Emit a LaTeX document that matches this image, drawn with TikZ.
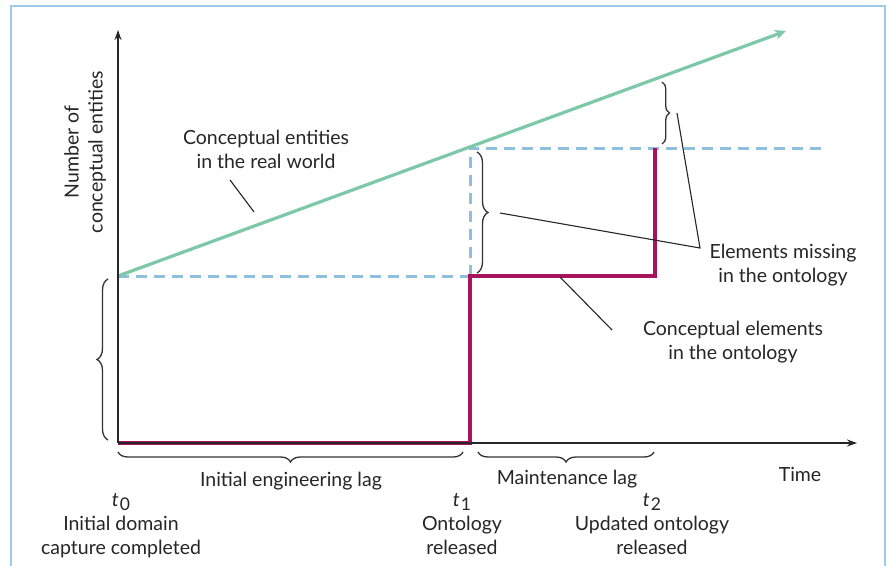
\documentclass[tikz,border=0pt]{standalone}
\usepackage{fontspec}
\setmainfont{Lato}
\usetikzlibrary{decorations.pathreplacing,arrows.meta}
\definecolor{frameblue}{HTML}{9DCBE9}
\definecolor{realgreen}{HTML}{7CC8A8}
\definecolor{dashblue}{HTML}{90BFDD}
\definecolor{ontomag}{HTML}{A8135E}
\definecolor{txt}{HTML}{262626}
\newcommand{\tsub}[1]{{\itshape t}\kern1pt\raisebox{-0.4ex}{\fontsize{17.5}{17.5}\selectfont #1}}
\tikzset{
  lbl/.style={align=center,text=txt,font=\fontsize{19.5}{24}\selectfont,inner sep=0pt},
  axis/.style={line width=1.5pt,black!85,-{Stealth[length=10pt,width=7pt]}},
  realline/.style={line width=3.2pt,realgreen,-{Stealth[length=11pt,width=10pt,inset=3pt]}},
  dashline/.style={line width=3pt,dashblue,dash pattern=on 11pt off 7pt},
  ontoline/.style={line width=3.2pt,ontomag},
  bracebox/.style={decorate,line width=1.3pt,black!80},
  pointer/.style={line width=1.1pt,black!85},
}
\begin{document}
\begin{tikzpicture}[x=1pt,y=-1pt]
\useasboundingbox (0,0) rectangle (891,565);
\fill[white] (0,0) rectangle (891,565);
\draw[frameblue,line width=2pt] (11,600) -- (11,6) -- (885,6) -- (885,600);

% key coordinates
\coordinate (O) at (118,443);
\coordinate (Ytip) at (118,30);
\coordinate (Xtip) at (857,443);
\coordinate (G0) at (118,276);
\coordinate (Gtip) at (786,31);
\coordinate (G1) at (470,148);
\coordinate (T1b) at (470,443);
\coordinate (T1m) at (470,276);
\coordinate (T2m) at (655,276);
\coordinate (T2t) at (655,148);
\coordinate (Dend) at (828,148);

% dashed guides
\draw[dashline] (G0) -- (T1m);
\draw[dashline] (T1m) -- (G1) -- (Dend);

% ontology steps
\draw[ontoline,line join=miter] (O) -- (T1b) -- (T1m) -- (T2m) -- (T2t);

% real world
\draw[realline] (G0) -- (Gtip);

% axes
\draw[axis] (O) -- (Ytip);
\draw[axis] (O) -- (Xtip);

% braces
\draw[bracebox,decoration={brace,amplitude=11pt}] (108,440) -- (108,279);
\draw[bracebox,decoration={brace,amplitude=11pt}] (477,152) -- (477,273);
\coordinate (bm) at (500,213);
\draw[bracebox,decoration={brace,amplitude=7.5pt}] (662,82) -- (662,144);
\coordinate (bu) at (677,113);
\draw[bracebox,decoration={brace,amplitude=10pt}] (463,452) -- (118,452);
\draw[bracebox,decoration={brace,amplitude=10pt}] (654,452) -- (478,452);

% labels
\node[lbl,rotate=90] (ylab) at (85,152) {Number of\\conceptual entities};
\node[lbl] (rw) at (266,149) {Conceptual entities\\in the real world};
\node[lbl] (miss) at (783,265) {Elements missing\\in the ontology};
\node[lbl] (celem) at (733,342) {Conceptual elements\\in the ontology};
\node[lbl] (lag1) at (291,481) {Initial engineering lag};
\node[lbl] (lag2) at (567,479) {Maintenance lag};
\node[lbl] (time) at (800,474) {Time};
\node[lbl,anchor=north] (t0) at (121,493) {\tsub{0}\\Initial domain\\capture completed};
\node[lbl,anchor=north] (t1) at (462,493) {\tsub{1}\\Ontology\\released};
\node[lbl,anchor=north] (t2) at (652,493) {\tsub{2}\\Updated ontology\\released};

% pointers
\coordinate (rwa) at (230,180);
\coordinate (rwb) at (254,212);
\draw[pointer] (rwa) -- (rwb);
\coordinate (mj) at (700,248);
\draw[pointer] (bm) -- (mj) -- (bu);
\coordinate (cea) at (560,277);
\coordinate (ceb) at (612,330);
\draw[pointer] (cea) -- (ceb);
\end{tikzpicture}
\end{document}
